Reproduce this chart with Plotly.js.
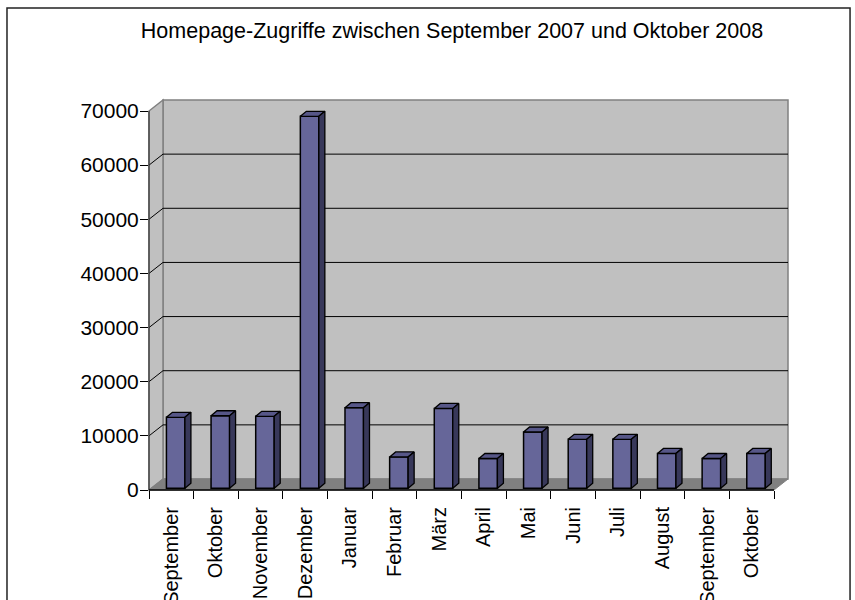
<!DOCTYPE html>
<html><head><meta charset="utf-8">
<script src="https://cdn.plot.ly/plotly-3.0.1.min.js"></script>
<style>html,body{margin:0;padding:0;background:#fff}#chart{width:855px;height:600px}</style>
</head><body><div id="chart"></div>
<script>
// ---- data ----
const months = ['September','Oktober','November','Dezember','Januar','Februar','März','April','Mai','Juni','Juli','August','September','Oktober'];
const visits = [13100,13400,13300,68700,14900,5800,14750,5500,10400,9050,9050,6450,5500,6450];
const yTicks = [0,10000,20000,30000,40000,50000,60000,70000];
const titleText = 'Homepage-Zugriffe zwischen September 2007 und Oktober 2008';

// ---- geometry (pseudo-3D look) ----
const W=855,H=600;
const ML=149, MT=100, MB=110;
const CAT_PX = 44.64;
const WALL_DX_PX=14, WALL_DY_PX=11;
const PLOT_W = CAT_PX*months.length + WALL_DX_PX;
const PLOT_H = H-MT-MB;
const MR = W-ML-PLOT_W;
const yMaxTick = yTicks[yTicks.length-1];
const yTop = yMaxTick*PLOT_H/(PLOT_H-WALL_DY_PX);
const uPerPxY = yTop/PLOT_H;
const xMin=-0.5, xMax = months.length-0.5 + WALL_DX_PX/CAT_PX;
const DXp = WALL_DX_PX/PLOT_W, DYp = WALL_DY_PX/PLOT_H;
const DY = WALL_DY_PX*uPerPxY;
const BAR_OFF = -4.9/CAT_PX, BAR_W = 18.5/CAT_PX;
const BAR_BASE = 1.7*uPerPxY;
const BAR_DX = 6/CAT_PX, BAR_DY = 5*uPerPxY;
const FONT = '"Liberation Sans", Arial, sans-serif';

const idx = months.map((m,i)=>i);
const bounds = months.map((m,i)=>i-0.5).concat([months.length-0.5]);

// faces of bars, computed from the data
const topX=[], topY=[], sideX=[], sideY=[];
visits.forEach((v,i)=>{
  const x0=i+BAR_OFF, x1=x0+BAR_W, t=BAR_BASE+v;
  topX.push(x0,x1,x1+BAR_DX,x0+BAR_DX,x0,null);
  topY.push(t,t,t+BAR_DY,t+BAR_DY,t,null);
  sideX.push(x1,x1,x1+BAR_DX,x1+BAR_DX,x1,null);
  sideY.push(BAR_BASE,t,t+BAR_DY,BAR_BASE+BAR_DY,BAR_BASE,null);
});

const shapes = [];
// back wall
shapes.push({type:'rect',xref:'paper',yref:'paper',x0:DXp,x1:1,y0:DYp,y1:1,fillcolor:'#c0c0c0',line:{color:'#808080',width:1.5},layer:'below'});
// side wall
shapes.push({type:'path',xref:'paper',yref:'paper',path:`M0,0 L${DXp},${DYp} L${DXp},1 L0,${yMaxTick/yTop} Z`,fillcolor:'#c0c0c0',line:{color:'#808080',width:1.5},layer:'below'});
// floor
shapes.push({type:'path',xref:'paper',yref:'paper',path:`M0,0 L${1-DXp},0 L1,${DYp} L${DXp},${DYp} Z`,fillcolor:'#808080',line:{color:'#808080',width:1},layer:'below'});
// gridlines
yTicks.slice(1,-1).forEach(v=>{
  shapes.push({type:'line',xref:'paper',yref:'y',x0:0,y0:v,x1:DXp,y1:v+DY,line:{color:'#000',width:1},layer:'below'});
  shapes.push({type:'line',xref:'paper',yref:'y',x0:DXp,y0:v+DY,x1:1,y1:v+DY,line:{color:'#000',width:1},layer:'below'});
});
// y axis line
shapes.push({type:'line',xref:'paper',yref:'paper',x0:0,y0:0,x1:0,y1:yMaxTick/yTop,line:{color:'#404040',width:1.3},layer:'below'});
// x axis front line
shapes.push({type:'line',xref:'paper',yref:'paper',x0:0,y0:0,x1:1-DXp,y1:0,line:{color:'#000',width:1.5},layer:'below'});
// outer frame
shapes.push({type:'rect',xref:'paper',yref:'paper',x0:(7-ML)/PLOT_W,x1:(850-ML)/PLOT_W,y0:-0.5,y1:(H-MB-8)/PLOT_H,line:{color:'#222',width:1.5},fillcolor:'rgba(0,0,0,0)',layer:'below'});

const traces = [
  {type:'bar',x:idx,y:visits,base:BAR_BASE,width:BAR_W,offset:BAR_OFF,
   marker:{color:'#666699',line:{color:'#000',width:1.5}},hoverinfo:'skip'},
  {type:'scatter',x:topX,y:topY,mode:'lines',fill:'toself',fillcolor:'#575788',line:{color:'#000',width:1.3},hoverinfo:'skip',connectgaps:false},
  {type:'scatter',x:sideX,y:sideY,mode:'lines',fill:'toself',fillcolor:'#38385a',line:{color:'#000',width:1.3},hoverinfo:'skip',connectgaps:false},
  {type:'scatter',x:[xMin],y:[0],xaxis:'x2',mode:'markers',marker:{opacity:0},hoverinfo:'skip'}
];

const layout = {
  width:W,height:H,
  margin:{l:ML,r:MR,t:MT,b:MB,pad:0},
  paper_bgcolor:'#fff',plot_bgcolor:'rgba(0,0,0,0)',
  showlegend:false,
  font:{family:FONT,color:'#000'},
  title:{text:titleText,font:{family:FONT,size:21.5,color:'#000'},x:452/W,xref:'container',xanchor:'center',y:1-30/H,yref:'container',yanchor:'middle'},
  xaxis:{range:[xMin,xMax],tickvals:idx,ticktext:months,tickangle:-90,ticks:'outside',ticklen:8,tickcolor:'rgba(0,0,0,0)',
         showgrid:false,zeroline:false,showline:false,tickfont:{family:FONT,size:20,color:'#000'},fixedrange:true},
  xaxis2:{overlaying:'x',side:'bottom',anchor:'y',range:[xMin,xMax],tickvals:bounds,ticks:'outside',ticklen:8,tickwidth:1,tickcolor:'#000',
          showticklabels:false,showgrid:false,zeroline:false,showline:false,fixedrange:true},
  yaxis:{range:[0,yTop],tickvals:yTicks,ticktext:yTicks.map(String),ticks:'outside',ticklen:8,tickwidth:1,tickcolor:'#000',
         ticklabelstandoff:-3,
         showgrid:false,zeroline:false,showline:false,tickfont:{family:FONT,size:21,color:'#000'},fixedrange:true},
  shapes:shapes
};
Plotly.newPlot('chart',traces,layout,{displayModeBar:false,staticPlot:true});
</script>
</body></html>
